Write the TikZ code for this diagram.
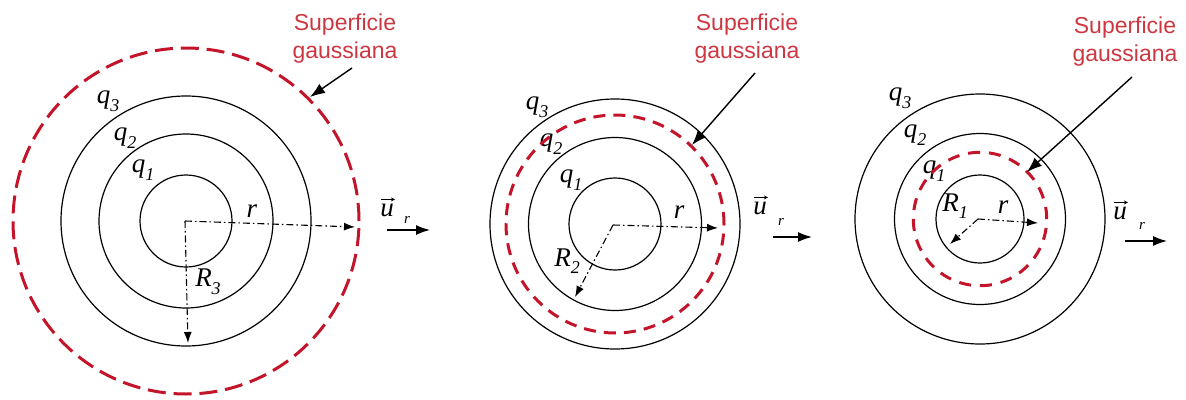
\documentclass[tikz,border=0pt]{standalone}
\usepackage{fontspec}
\newfontfamily\arialf{Liberation Sans}
\newfontfamily\tmsf{Liberation Serif}
\usetikzlibrary{arrows.meta}
\definecolor{gred}{RGB}{196,20,42}
\definecolor{tred}{RGB}{205,55,65}
\newcommand\qlab[2]{#1\raisebox{-0.28em}{\fontsize{18}{18}\selectfont #2}}
\begin{document}
\begin{tikzpicture}[x=1pt,y=-1pt,
  shell/.style={line width=1.2pt},
  gauss/.style={gred,line width=3pt},
  radial/.style={line width=1.1pt,dash pattern=on 7pt off 3pt on 1.5pt off 3pt,-{Latex[length=11pt,width=8pt]}},
  pointer/.style={line width=1.4pt,-{Latex[length=15pt,width=11pt]}},
  urarrow/.style={line width=1.4pt,-{Latex[length=14pt,width=10pt]}},
  lab/.style={inner sep=0pt,font=\fontsize{27}{30}\selectfont\tmsf\itshape},
  sublab/.style={inner sep=0pt,font=\fontsize{15}{16}\selectfont\tmsf\itshape},
  gtext/.style={tred,align=center,inner sep=0pt,font=\fontsize{23}{28}\selectfont\arialf},
  vecbar/.style={line width=0.9pt,-{Stealth[length=4pt,width=4pt]}}]
\useasboundingbox (0,0) rectangle (1186,399);

% ---------- panel 1 ----------
\coordinate (c1) at (186,221);
\draw[shell] (c1) circle[radius=46pt];
\draw[shell] (c1) circle[radius=87pt];
\draw[shell] (c1) circle[radius=125pt];
\node[lab] (q3a) at (108,101) {\qlab{q}{3}};
\node[lab] (q2a) at (125,138) {\qlab{q}{2}};
\node[lab] (q1a) at (143,170) {\qlab{q}{1}};
\node[lab] (ra) at (252,211) {r};
\node[lab] (Ra) at (208,282) {\qlab{R}{3}};
\coordinate (o1) at (185,221);
\coordinate (h1) at (355,227);
\coordinate (v1) at (188,343);
\draw[radial] (o1) -- (h1);
\draw[radial] (o1) -- (v1);
\draw[gauss,dash pattern=on 18pt off 7.9pt] (c1) circle[radius=173pt];
\node[gtext,anchor=north] (ga) at (345,14) {Superficie\\gaussiana};
\coordinate (pa0) at (352,68);
\coordinate (pa1) at (310,97);
\draw[pointer] (pa0) -- (pa1);
\node[lab] (ua) at (387,210) {u};
\draw[vecbar] ([shift={(1,-4)}]ua.north west) -- ([shift={(1,-4)}]ua.north east);
\node[sublab] (ura) at (407,220) {r};
\coordinate (ua0) at (387,230);
\coordinate (ua1) at (430,230);
\draw[urarrow] (ua0) -- (ua1);

% ---------- panel 2 ----------
\coordinate (c2) at (615,224);
\draw[shell] (c2) circle[radius=46pt];
\draw[shell] (c2) circle[radius=86.5pt];
\draw[shell] (c2) circle[radius=125pt];
\node[lab] (q3b) at (537,107) {\qlab{q}{3}};
\node[lab] (q2b) at (551,144) {\qlab{q}{2}};
\node[lab] (q1b) at (571,180) {\qlab{q}{1}};
\node[lab] (rb) at (679,212) {r};
\node[lab] (Rb) at (567,261) {\qlab{R}{2}};
\coordinate (o2) at (613,225);
\coordinate (h2) at (718,228);
\coordinate (v2) at (575,297);
\draw[radial] (o2) -- (h2);
\draw[radial] (o2) -- (v2);
\draw[gauss,dash pattern=on 12pt off 8.1pt] (c2) circle[radius=109pt];
\node[gtext,anchor=north] (gb) at (747,14) {Superficie\\gaussiana};
\coordinate (pb0) at (755,73);
\coordinate (pb1) at (692,145);
\draw[pointer] (pb0) -- (pb1);
\node[lab] (ub) at (760,208) {u};
\draw[vecbar] ([shift={(1,-4)}]ub.north west) -- ([shift={(1,-4)}]ub.north east);
\node[sublab] (urb) at (781,222) {r};
\coordinate (ub0) at (773,237);
\coordinate (ub1) at (812,237);
\draw[urarrow] (ub0) -- (ub1);

% ---------- panel 3 ----------
\coordinate (c3) at (980,219);
\draw[shell] (c3) circle[radius=44pt];
\draw[shell] (c3) circle[radius=85.5pt];
\draw[shell] (c3) circle[radius=125pt];
\node[lab] (q3c) at (900,98) {\qlab{q}{3}};
\node[lab] (q2c) at (915,135) {\qlab{q}{2}};
\node[lab] (q1c) at (934,171) {\qlab{q}{1}};
\node[lab] (Rc) at (955,206) {\qlab{R}{1}};
\node[lab] (rc) at (1003,207) {r};
\coordinate (o3) at (978,219);
\coordinate (h3) at (1038,223);
\coordinate (v3) at (950,244);
\draw[radial] (o3) -- (h3);
\draw[radial] (o3) -- (v3);
\draw[gauss,dash pattern=on 12pt off 8.95pt] (c3) circle[radius=66.7pt];
\node[gtext,anchor=north] (gc) at (1125,17) {Superficie\\gaussiana};
\coordinate (pc0) at (1132,77);
\coordinate (pc1) at (1027,172);
\draw[pointer] (pc0) -- (pc1);
\node[lab] (uc) at (1120,213) {u};
\draw[vecbar] ([shift={(1,-4)}]uc.north west) -- ([shift={(1,-4)}]uc.north east);
\node[sublab] (urc) at (1142,226) {r};
\coordinate (uc0) at (1125,241);
\coordinate (uc1) at (1167,241);
\draw[urarrow] (uc0) -- (uc1);
\end{tikzpicture}
\end{document}
